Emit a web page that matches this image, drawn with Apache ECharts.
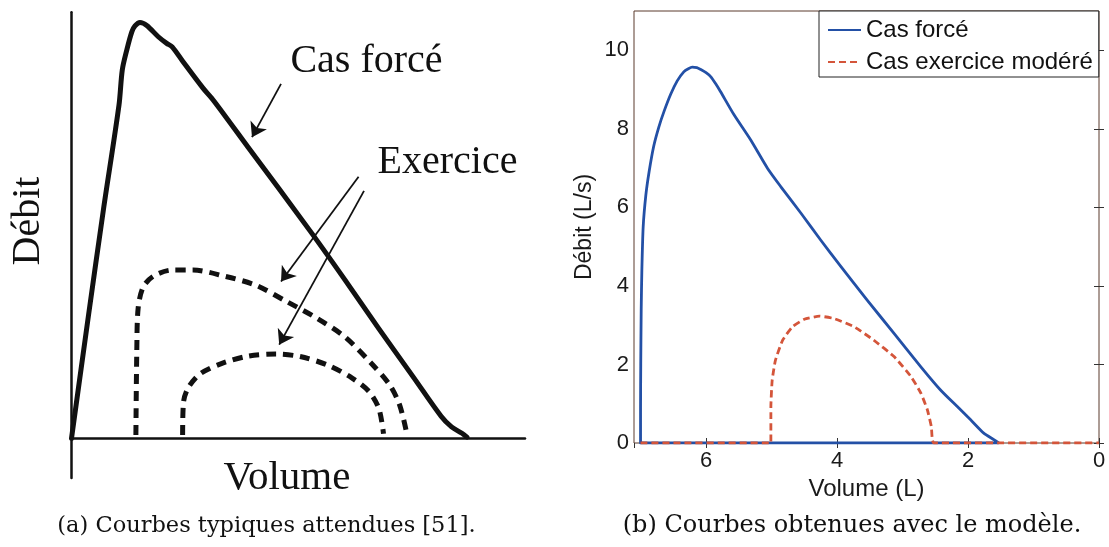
<!DOCTYPE html>
<html><head><meta charset="utf-8">
<script src="https://cdn.jsdelivr.net/npm/echarts@6/dist/echarts.min.js"></script>
<style>html,body{margin:0;padding:0;background:#fff;}#c{width:1109px;height:547px;}</style>
</head><body><div id="c"></div>
<script>
// ---------- Panel (a): schematic, arbitrary units (x 0..100, y 0..100) ----------
const forcedA = [[0,0],[3.75,28.9],[7.03,53.6],[10.47,78.2],[11.2,86.5],[12.2,91.2],[13.3,95.4],[14.0,96.8],[15.1,97.6],[16.6,96.9],[19.2,94.2],[21.0,92.7],[22.2,91.9],[24.6,88.4],[29.0,82.2],[31.4,79.2],[38.9,68.4],[52.6,48.7],[60.3,37.2],[67.8,25.7],[75.5,14.2],[81.5,5.2],[83.8,2.7],[86.1,1.2],[87.2,0.3]];
const exerciseOuterA = [[14.2,0.8],[14.4,20.7],[14.7,30.6],[15.8,35.5],[18.1,38.1],[22.2,39.5],[26.8,39.5],[33.6,38.1],[40.5,36.0],[47.3,32.2],[54.1,28.2],[60.3,23.8],[66.3,17.4],[70.2,12.5],[72.4,7.7],[74.0,0.8]];
const exerciseInnerA = [[24.5,0.8],[24.7,8.5],[25.7,11.8],[28.3,15.1],[32.9,17.5],[38.9,19.3],[45.1,19.8],[50.4,19.2],[56.5,17.2],[61.8,14.2],[65.6,11.0],[67.8,6.9],[68.8,1.1]];
const arrowsA = [[[46.2,83.2],[39.8,70.7]],[[63.3,61.4],[46.2,36.8]],[[64.5,58.1],[45.8,22.0]]];

// ---------- Panel (b): model results ----------
const seriesNamesB = ['Cas forcé','Cas exercice modéré'];
// [Volume (L), Débit (L/s)]
const forcedB = [[1.53,0],[7.0,0],[7.0,0.9],[6.997,2.0],[6.99,3.4],[6.98,4.4],[6.96,5.5],[6.92,6.3],[6.87,6.9],[6.8,7.55],[6.72,8.05],[6.64,8.45],[6.54,8.88],[6.44,9.22],[6.34,9.45],[6.27,9.53],[6.21,9.57],[6.14,9.56],[6.08,9.51],[6.0,9.43],[5.93,9.33],[5.85,9.14],[5.78,8.95],[5.57,8.35],[5.32,7.72],[5.06,6.99],[4.86,6.53],[4.55,5.85],[4.25,5.17],[3.94,4.49],[3.54,3.64],[3.13,2.79],[2.72,1.94],[2.42,1.35],[2.16,0.92],[1.96,0.59],[1.76,0.25],[1.6,0.08],[1.53,0]];
const moderateB = [[7.0,0],[5.01,0],[5.01,0.92],[4.99,1.6],[4.94,2.11],[4.83,2.62],[4.68,2.96],[4.5,3.15],[4.27,3.23],[4.05,3.17],[3.74,2.96],[3.44,2.62],[3.13,2.2],[2.87,1.69],[2.72,1.27],[2.62,0.84],[2.56,0.42],[2.52,0],[0,0]];

const chart = echarts.init(document.getElementById('c'), null, {renderer:'canvas'});
const serif = '"Liberation Serif", "Times New Roman", serif';
const sans = '"Liberation Sans", Arial, sans-serif';
const frame = '#5a3a2c';
const tickStyle = {inside:true, length:5, lineStyle:{color:'#333', width:1}};

chart.setOption({
  animation:false,
  backgroundColor:'#fff',
  grid:[
    {left:71.5, top:12.3, width:453.5, height:465.7},
    {left:634, top:11, width:465, height:432, show:true, borderColor:frame, borderWidth:1, backgroundColor:'#fff'}
  ],
  xAxis:[
    {gridIndex:0, type:'value', min:0, max:100, axisLine:{onZero:true, lineStyle:{color:'#111', width:2.5}}, axisTick:{show:false}, axisLabel:{show:false}, splitLine:{show:false}},
    {gridIndex:1, type:'value', min:0, max:7.1, interval:2, inverse:true, position:'bottom',
      axisLine:{show:false}, axisTick:tickStyle, splitLine:{show:false},
      axisLabel:{fontFamily:sans, fontSize:22, color:'#1a1a1a', margin:7, showMaxLabel:false},
      name:'Volume (L)', nameLocation:'middle', nameGap:25, nameTextStyle:{fontFamily:sans, fontSize:24, color:'#1a1a1a'}},
    {gridIndex:1, type:'value', min:0, max:7.1, interval:2, inverse:true, position:'top',
      axisLine:{show:false}, axisTick:tickStyle, axisLabel:{show:false}, splitLine:{show:false}}
  ],
  yAxis:[
    {gridIndex:0, type:'value', min:-9.3, max:100, axisLine:{show:true, onZero:true, lineStyle:{color:'#111', width:2.5}}, axisTick:{show:false}, axisLabel:{show:false}, splitLine:{show:false}},
    {gridIndex:1, type:'value', min:0, max:11, interval:2, position:'left',
      axisLine:{show:false}, axisTick:tickStyle, splitLine:{show:false},
      axisLabel:{fontFamily:sans, fontSize:22, color:'#1a1a1a', margin:5, showMaxLabel:false},
      name:'Débit (L/s)', nameLocation:'middle', nameGap:38, nameTextStyle:{fontFamily:sans, fontSize:23, color:'#1a1a1a'}},
    {gridIndex:1, type:'value', min:0, max:11, interval:2, position:'right',
      axisLine:{show:false}, axisTick:tickStyle, axisLabel:{show:false}, splitLine:{show:false}}
  ],
  legend:{
    data:seriesNamesB, orient:'vertical', left:819, top:11,
    itemWidth:33, itemHeight:14, itemGap:8, padding:[7,6,3,8],
    itemStyle:{opacity:0},
    borderColor:'#222', borderWidth:1, backgroundColor:'#fff', borderRadius:0,
    textStyle:{fontFamily:sans, fontSize:24, color:'#111', lineHeight:24}
  },
  series:[
    {type:'line', xAxisIndex:0, yAxisIndex:0, data:forcedA, symbol:'none', smooth:0.3,
      lineStyle:{color:'#111', width:5, cap:'round', join:'round'}},
    {type:'line', xAxisIndex:0, yAxisIndex:0, data:exerciseOuterA, symbol:'none', smooth:0.3,
      lineStyle:{color:'#111', width:5, type:[10,7]}},
    {type:'line', xAxisIndex:0, yAxisIndex:0, data:exerciseInnerA, symbol:'none', smooth:0.3,
      lineStyle:{color:'#111', width:5, type:[10,7]}},
    {type:'lines', coordinateSystem:'cartesian2d', xAxisIndex:0, yAxisIndex:0,
      data:arrowsA.map(c=>({coords:c})), symbol:['none','arrow'], symbolSize:14,
      lineStyle:{color:'#111', width:1.8, opacity:1, curveness:0}},
    {type:'line', name:seriesNamesB[0], xAxisIndex:1, yAxisIndex:1, data:forcedB, symbol:'none', smooth:0.2,
      color:'#2350a6', lineStyle:{color:'#2350a6', width:2.8, join:'round'}},
    {type:'line', name:seriesNamesB[1], xAxisIndex:1, yAxisIndex:1, data:moderateB, symbol:'none', smooth:0.15,
      color:'#d4553a', lineStyle:{color:'#d4553a', width:2.8, type:[7,4]}, z:3}
  ],
  graphic:[
    {type:'text', x:366.5, y:61, style:{text:'Cas forcé', font:'40px '+serif, fill:'#111', textAlign:'center', textVerticalAlign:'middle'}},
    {type:'text', x:447.5, y:162, style:{text:'Exercice', font:'40px '+serif, fill:'#111', textAlign:'center', textVerticalAlign:'middle'}},
    {type:'text', x:287, y:478, style:{text:'Volume', font:'41px '+serif, fill:'#111', textAlign:'center', textVerticalAlign:'middle'}},
    {type:'text', x:28, y:221, rotation:Math.PI/2, style:{text:'Débit', font:'40px '+serif, fill:'#111', textAlign:'center', textVerticalAlign:'middle'}},
    {type:'text', x:266.5, y:526, style:{text:'(a) Courbes typiques attendues [51].', font:'22.5px "DejaVu Serif", serif', fill:'#111', textAlign:'center', textVerticalAlign:'middle'}},
    {type:'text', x:852, y:526, style:{text:'(b) Courbes obtenues avec le modèle.', font:'24px "DejaVu Serif", serif', fill:'#111', textAlign:'center', textVerticalAlign:'middle'}}
  ]
});
</script></body></html>
